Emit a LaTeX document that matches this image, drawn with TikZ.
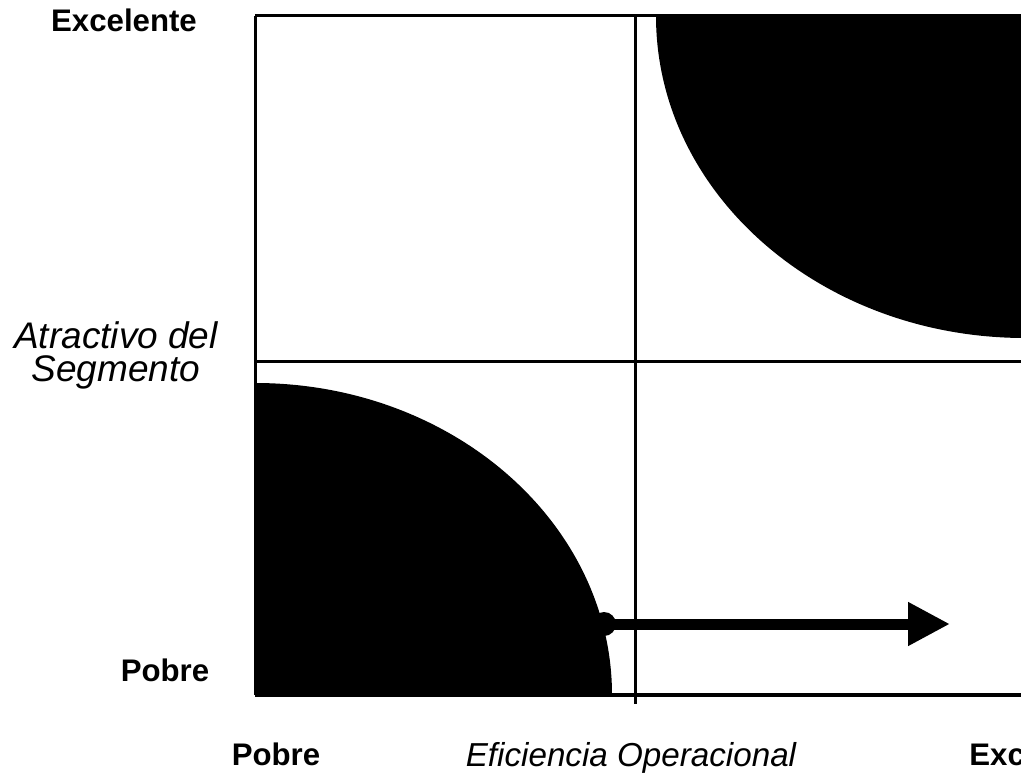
\documentclass[tikz,border=0pt]{standalone}
\usepackage{fontspec}
\setmainfont{Liberation Sans}
\usetikzlibrary{arrows.meta}
\tikzset{
  lab/.style={font=\bfseries\fontsize{15.6}{18}\selectfont, anchor=base, inner sep=0pt},
  ax/.style={font=\itshape\fontsize{18.5}{16.5}\selectfont, anchor=base, align=center, inner sep=0pt},
  ln/.style={line width=1.5pt},
  blob/.style={fill=black},
  a/.style={-{Triangle[length=21pt,width=20.5pt]}, line width=5.5pt},
}
\begin{document}
\begin{tikzpicture}[x=0.5pt,y=-0.5pt]
\useasboundingbox (0,0) rectangle (1021,774);
\clip (0,0) rectangle (1021,774);
% dark corners
\fill[blob] (656,16) arc[start angle=180,end angle=90,x radius=369,y radius=322]
  -- (1030,338) -- (1030,16) -- cycle;
\fill[blob] (255,383) arc[start angle=270,end angle=360,x radius=357,y radius=312]
  -- (255,695) -- cycle;
% grid
\draw[ln] (255,16) -- (1030,16);
\draw[ln] (255,16) -- (255,695);
\draw[ln] (255,362) -- (1030,362);
\draw[ln] (635,16) -- (635,704);
\draw[ln, line width=2.2pt] (255,695) -- (1030,695);
% move
\node[circle, fill=black, inner sep=0pt, minimum size=12pt] (dot) at (604,624) {};
\coordinate (tip) at (950,624);
\draw[a] (dot.center) -- (tip);
% labels
\node[lab] (yhi) at (124,32) {Excelente};
\node[lab] (ylo) at (165,681) {Pobre};
\node[ax] (ytit) at (116,382) {Atractivo del\\Segmento};
\node[lab] (xlo) at (276,765) {Pobre};
\node[ax, font=\itshape\fontsize{16.6}{18}\selectfont] (xtit) at (631,766) {Eficiencia Operacional};
\node[lab, anchor=base west] (xhi) at (969,765) {Excelente};
\end{tikzpicture}
\end{document}
